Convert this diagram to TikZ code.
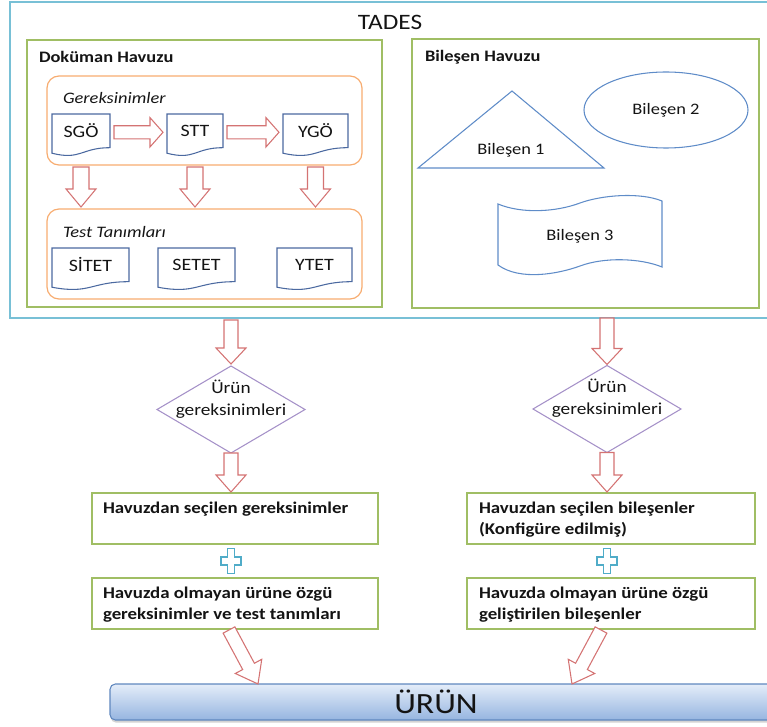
\documentclass[tikz,border=0pt]{standalone}
\usepackage{fontspec}
\setmainfont{Carlito}[FakeStretch=1.15]
\usetikzlibrary{calc,shapes.geometric,fit,shadows}
\definecolor{tblue}{RGB}{120,192,214}
\definecolor{pgreen}{RGB}{160,190,100}
\definecolor{porange}{RGB}{247,172,112}
\definecolor{dblue}{RGB}{75,105,160}
\definecolor{sblue}{RGB}{95,140,200}
\definecolor{ared}{RGB}{212,115,115}
\definecolor{dpurple}{RGB}{165,145,200}
\definecolor{pcyan}{RGB}{80,172,200}
\definecolor{bartop}{RGB}{228,237,249}
\definecolor{barbot}{RGB}{150,181,224}
\definecolor{barline}{RGB}{95,135,190}
\definecolor{txt}{RGB}{20,20,20}
\newcommand\blockarrow[5]{%
  \coordinate (bah) at ($(#2)!#5!(#1)$);
  \draw[blockarr] ($(#1)!#3!90:(#2)$) -- ($(bah)!#3!90:(#2)$) -- ($(bah)!#4!90:(#2)$) -- (#2)
    -- ($(bah)!#4!-90:(#2)$) -- ($(bah)!#3!-90:(#2)$) -- ($(#1)!#3!-90:(#2)$) -- cycle;
}
\newcommand\docshape[6]{%
  \draw[docsty] (#2,#3) -- ({#2+#4},#3) -- ({#2+#4},{#3+0.802*#5})
    .. controls ({#2+0.5*#4},{#3+0.802*#5}) and ({#2+0.5*#4},{#3+1.107*#5}) .. (#2,{#3+0.934*#5}) -- cycle;
  \node[doctext, minimum width={#4*0.75pt}, minimum height={0.8*#5*0.75pt}] (#1) at ({#2+0.5*#4},{#3+0.4*#5}) {#6};
}
\newcommand\plussign[1]{%
  \draw[plussty, shift={(#1)}] (-3.5,-12.5) -- (3.5,-12.5) -- (3.5,-4) -- (10,-4) -- (10,4) -- (3.5,4)
    -- (3.5,12.5) -- (-3.5,12.5) -- (-3.5,4) -- (-10,4) -- (-10,-4) -- (-3.5,-4) -- cycle;
}
\begin{document}
\begin{tikzpicture}[x=0.75pt,y=-0.75pt,
  every node/.style={inner sep=0pt, outer sep=0pt, text=txt},
  tadesbox/.style={draw=tblue, line width=1.1pt},
  poolbox/.style={draw=pgreen, line width=0.9pt},
  roundbox/.style={draw=porange, line width=0.9pt, rounded corners=9pt},
  greenbox/.style={draw=pgreen, line width=1pt},
  docsty/.style={draw=dblue, line width=0.8pt},
  shapesty/.style={draw=sblue, line width=0.8pt},
  blockarr/.style={draw=ared, line width=0.8pt, fill=white, line join=miter},
  plussty/.style={draw=pcyan, line width=0.8pt, fill=white},
  dia/.style={diamond, draw=dpurple, line width=0.8pt, minimum width=111pt, minimum height=65.25pt},
  doctext/.style={font=\fontsize{13}{15}\selectfont},
  titletext/.style={font=\fontsize{12}{14}\selectfont\bfseries},
  ittext/.style={font=\fontsize{12}{14}\selectfont\itshape},
  boxtext/.style={font=\fontsize{12.3}{15.75}\selectfont\bfseries, align=left},
  shapetext/.style={font=\fontsize{12}{14}\selectfont},
  diatext/.style={font=\fontsize{12.6}{16.5}\selectfont, align=center},
  bar/.style={draw=barline, line width=0.8pt, rounded corners=4pt, top color=bartop, bottom color=barbot,
    drop shadow={opacity=0.35, shadow xshift=0.5pt, shadow yshift=-2pt}},
]
\useasboundingbox (0,0) rectangle (767,727);

% TADES container
\node[tadesbox, fit={(10,2)(770,318)}] (tades) {};
\node[font=\fontsize{16.5}{18}\selectfont] (tadest) at (390,22) {TADES};

% Document pool
\node[poolbox, fit={(27,40)(382,307)}] (dok) {};
\node[titletext, anchor=west] (dokt) at (39,57) {Doküman Havuzu};
\node[roundbox, fit={(47,76)(362,165)}] (ger) {};
\node[ittext, anchor=west] (gert) at (63,98) {Gereksinimler};
\node[roundbox, fit={(47,209)(362,299)}] (tst) {};
\node[ittext, anchor=west] (tstt) at (63,232) {Test Tanımları};

\docshape{sgo}{52}{114}{58}{42}{SGÖ}
\docshape{stt}{167}{114}{56}{42}{STT}
\docshape{ygo}{283}{114}{65}{42}{YGÖ}
\docshape{sitet}{52}{248}{77}{42}{SİTET}
\docshape{setet}{158}{248}{77}{42}{SETET}
\docshape{ytet}{277}{248}{75}{42}{YTET}

\coordinate (h1s) at ($(sgo.east)+(4,1.5)$);
\coordinate (h1e) at ($(stt.west)+(-4,1.5)$);
\coordinate (h2s) at ($(stt.east)+(4,1.5)$);
\coordinate (h2e) at ($(ygo.west)+(-4,1.5)$);
\blockarrow{h1s}{h1e}{4.9pt}{11pt}{9.75pt}
\blockarrow{h2s}{h2e}{4.9pt}{11pt}{9.75pt}

\coordinate (v1s) at ($(sgo |- ger.south)+(0,2)$);
\coordinate (v1e) at ($(sgo |- tst.north)+(0,-2)$);
\coordinate (v2s) at ($(stt |- ger.south)+(0,2)$);
\coordinate (v2e) at ($(stt |- tst.north)+(0,-2)$);
\coordinate (v3s) at ($(ygo |- ger.south)+(0,2)$);
\coordinate (v3e) at ($(ygo |- tst.north)+(0,-2)$);
\blockarrow{v1s}{v1e}{6pt}{11.25pt}{13.5pt}
\blockarrow{v2s}{v2e}{6pt}{11.25pt}{13.5pt}
\blockarrow{v3s}{v3e}{6pt}{11.25pt}{13.5pt}

% Component pool
\node[poolbox, fit={(412,39)(759,308)}] (bil) {};
\node[titletext, anchor=west] (bilt) at (425,57) {Bileşen Havuzu};
\coordinate (tria) at (512,91);
\coordinate (trib) at (418,168);
\coordinate (tric) at (604,168);
\draw[shapesty] (tria) -- (trib) -- (tric) -- cycle;
\node[shapetext] (b1) at (511,150) {Bileşen 1};
\node[ellipse, shapesty, minimum width=123pt, minimum height=57pt, shapetext] (b2) at (666,110) {Bileşen 2};
\draw[shapesty] (498,204) .. controls (522,214) and (556,212) .. (580,203)
   .. controls (602,195) and (640,192) .. (662,201) -- (662,267)
   .. controls (640,258) and (604,257) .. (580,266)
   .. controls (558,274) and (520,281) .. (498,265) -- cycle;
\node[shapetext] (b3) at (580,236) {Bileşen 3};

% Left column
\node[dia] (d1) at (231,409.5) {};
\node[diatext] (d1t) at (231,399) {Ürün\\gereksinimleri};
\node[greenbox, fit={(92,493)(378,544)}] (l1) {};
\node[boxtext, anchor=north west] (l1t) at (103,502) {Havuzdan seçilen gereksinimler};
\node[greenbox, fit={(92,578)(378,629)}] (l2) {};
\node[boxtext, anchor=north west] (l2t) at (103,587) {Havuzda olmayan ürüne özgü\\gereksinimler ve test tanımları};
\coordinate (p1) at ($(d1 |- l1.south)!0.5!(d1 |- l2.north)$);
\plussign{p1}

% Right column
\node[dia] (d2) at (607,409) {};
\node[diatext] (d2t) at (607,398.5) {Ürün\\gereksinimleri};
\node[greenbox, fit={(467,493)(755,544)}] (r1) {};
\node[boxtext, anchor=north west] (r1t) at (479,502) {Havuzdan seçilen bileşenler\\(Konfigüre edilmiş)};
\node[greenbox, fit={(467,578)(755,629)}] (r2) {};
\node[boxtext, anchor=north west] (r2t) at (479,587) {Havuzda olmayan ürüne özgü\\geliştirilen bileşenler};
\coordinate (p2) at ($(d2 |- r1.south)!0.5!(d2 |- r2.north)$);
\plussign{p2}

% main arrows
\coordinate (m1s) at ($(d1.north |- tades.south)+(0,2)$);
\coordinate (m1e) at ($(d1.north)+(0,-2)$);
\coordinate (m2s) at (d1.south);
\coordinate (m2e) at ($(d1.south |- l1.north)+(0,-1)$);
\coordinate (m3s) at ($(d2.north |- tades.south)+(0,0)$);
\coordinate (m3e) at ($(d2.north)+(0,-1)$);
\coordinate (m4s) at (d2.south);
\coordinate (m4e) at ($(d2.south |- r1.north)+(0,-1)$);
\blockarrow{m1s}{m1e}{5.25pt}{11.25pt}{12pt}
\blockarrow{m2s}{m2e}{5.25pt}{11.25pt}{12.75pt}
\blockarrow{m3s}{m3e}{5.25pt}{11.25pt}{12pt}
\blockarrow{m4s}{m4e}{5.25pt}{11.25pt}{12.75pt}

% product bar
\node[bar, fit={(110,684)(790,720)}] (urun) {};
\node[font=\fontsize{22}{24}\selectfont] (urunt) at (436,702) {ÜRÜN};

\coordinate (d3s) at ($(l2.south west)+(137,1)$);
\coordinate (d3e) at ($(urun.north west)+(148,0)$);
\coordinate (d4s) at ($(r2.south west)+(134,1)$);
\coordinate (d4e) at ($(urun.north west)+(462,0)$);
\blockarrow{d3s}{d3e}{5pt}{11.25pt}{15pt}
\blockarrow{d4s}{d4e}{5pt}{11.25pt}{15pt}
\end{tikzpicture}
\end{document}
